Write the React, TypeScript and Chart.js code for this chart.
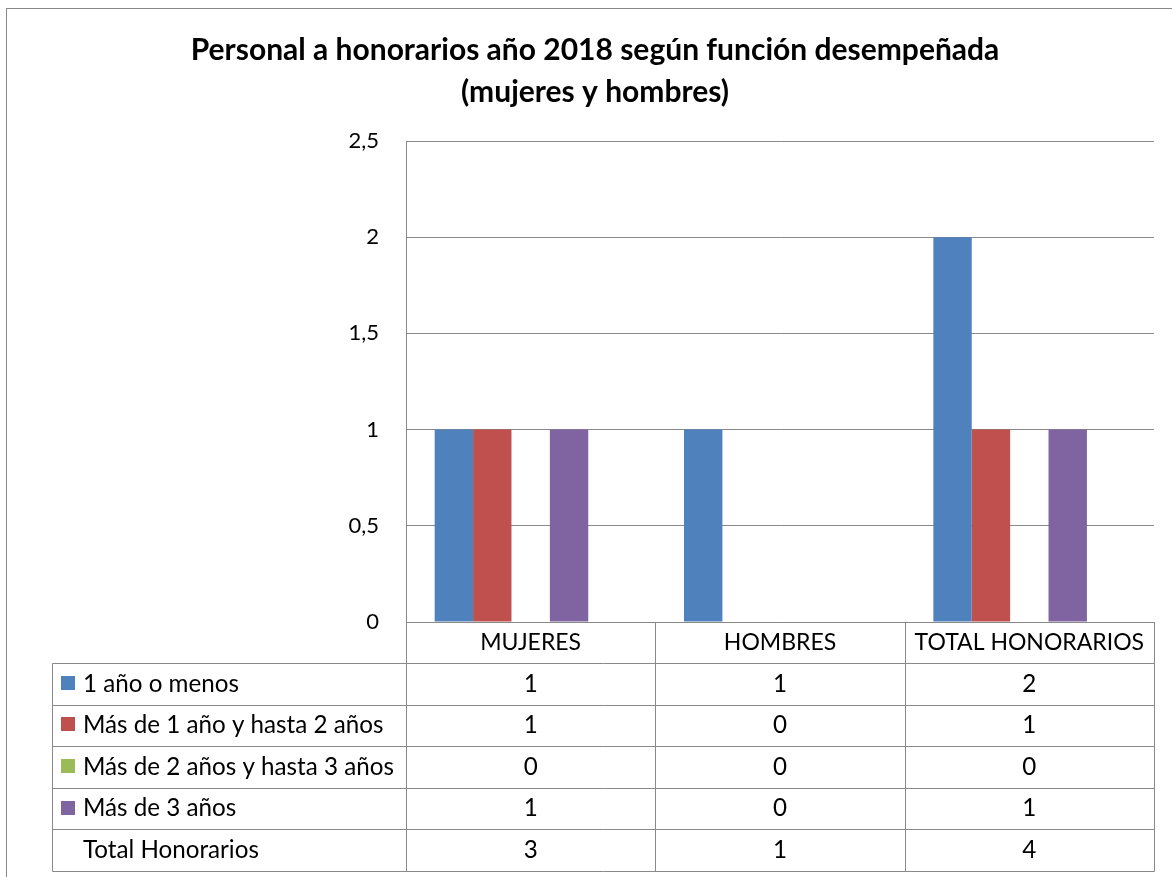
import React, { useEffect, useRef } from "react";
import { Chart, registerables } from "chart.js";

Chart.register(...registerables);

const titleLines = ["Personal a honorarios año 2018 según función desempeñada", "(mujeres y hombres)"];
const categories = ["MUJERES", "HOMBRES", "TOTAL HONORARIOS"];
const seriesNames = [
  "1 año o menos",
  "Más de 1 año y hasta 2 años",
  "Más de 2 años y hasta 3 años",
  "Más de 3 años",
  "Total Honorarios",
];
const unAnoOMenos = [1, 1, 2];
const masDe1HastaDos = [1, 0, 1];
const masDe2HastaTres = [0, 0, 0];
const masDe3 = [1, 0, 1];
const totalHonorarios = [3, 1, 4];
const seriesValues = [unAnoOMenos, masDe1HastaDos, masDe2HastaTres, masDe3, totalHonorarios];
const seriesColors = ["#4F81BD", "#C0504D", "#9BBB59", "#8064A2", "rgba(0,0,0,0)"];
const showMarker = [true, true, true, true, false];
const yMin = 0;
const yMax = 2.5;
const yStep = 0.5;

const FONT = "Lato, 'Open Sans', sans-serif";
const LINE = "#898989";
const HEADER_H = 41;
const ROW_H = 41.6;
const LABEL_LEFT = 52;

const framePlugin = {
  id: "frame",
  beforeDraw(chart: any) {
    const { ctx } = chart;
    ctx.save();
    ctx.fillStyle = "#ffffff";
    ctx.fillRect(0, 0, chart.width, chart.height);
    ctx.strokeStyle = LINE;
    ctx.lineWidth = 1;
    ctx.strokeRect(6.5, 8.5, chart.width + 20, chart.height + 20);
    ctx.restore();
  },
};

const tablePlugin = {
  id: "dataTable",
  afterDraw(chart: any) {
    const { ctx, chartArea, scales } = chart;
    const xs = scales.x;
    const n = categories.length;
    const catW = (chartArea.right - chartArea.left) / n;
    const top = chartArea.bottom;
    const tableTop = top + HEADER_H;
    const rows = seriesNames.length;
    const bottom = tableTop + rows * ROW_H;
    ctx.save();
    ctx.strokeStyle = LINE;
    ctx.lineWidth = 1;
    ctx.beginPath();
    for (let r = 0; r <= rows; r++) {
      const y = Math.round(tableTop + r * ROW_H) + 0.5;
      ctx.moveTo(LABEL_LEFT + 0.5, y);
      ctx.lineTo(chartArea.right + 0.5, y);
    }
    for (let c = 0; c <= n; c++) {
      const x = Math.round(chartArea.left + c * catW) + 0.5;
      ctx.moveTo(x, top);
      ctx.lineTo(x, Math.round(bottom) + 0.5);
    }
    ctx.moveTo(LABEL_LEFT + 0.5, Math.round(tableTop) + 0.5);
    ctx.lineTo(LABEL_LEFT + 0.5, Math.round(bottom) + 0.5);
    ctx.stroke();

    ctx.font = `24.2px ${FONT}`;
    ctx.fillStyle = "#000000";
    ctx.textBaseline = "middle";
    for (let r = 0; r < rows; r++) {
      const cy = tableTop + r * ROW_H + ROW_H / 2;
      if (showMarker[r]) {
        ctx.fillStyle = seriesColors[r];
        ctx.fillRect(61, Math.round(cy - 8), 14, 14);
      }
      ctx.fillStyle = "#000000";
      ctx.textAlign = "left";
      ctx.fillText(seriesNames[r], 83, cy);
      ctx.textAlign = "center";
      seriesValues[r].forEach((v, c) => {
        ctx.fillText(String(v), xs.getPixelForValue(c), cy);
      });
    }
    ctx.restore();
  },
};

export default function App() {
  const ref = useRef<HTMLCanvasElement | null>(null);
  useEffect(() => {
    if (!ref.current) return;
    const chart = new Chart(ref.current, {
      type: "bar",
      data: {
        labels: categories,
        datasets: seriesNames.map((name, i) => ({
          label: name,
          data: seriesValues[i],
          backgroundColor: seriesColors[i],
          borderWidth: 0,
        })),
      },
      options: {
        responsive: false,
        animation: false,
        devicePixelRatio: 1,
        layout: { padding: { left: 36, right: 18, top: 0, bottom: 6 } },
        datasets: { bar: { categoryPercentage: 0.77, barPercentage: 1 } },
        plugins: {
          legend: { display: false },
          tooltip: { enabled: false },
          title: {
            display: true,
            text: titleLines,
            color: "#000000",
            font: { family: FONT, size: 30, weight: "bold", lineHeight: 42 / 30 },
            padding: { top: 29, bottom: 28 },
          },
        },
        scales: {
          x: {
            grid: { display: false, drawTicks: false },
            border: { display: true, color: LINE },
            ticks: { color: "#000000", font: { family: FONT, size: 23, lineHeight: 24 / 23 }, padding: 9, maxRotation: 0 },
            afterFit(scale: any) {
              scale.height = HEADER_H + seriesNames.length * ROW_H;
            },
          },
          y: {
            min: yMin,
            max: yMax,
            grid: { color: LINE, drawTicks: false },
            border: { display: true, color: LINE },
            ticks: {
              stepSize: yStep,
              padding: 27,
              color: "#000000",
              font: { family: FONT, size: 22 },
              callback: (v: any) => String(v).replace(".", ","),
            },
            afterFit(scale: any) {
              scale.width = 370;
            },
          },
        },
      },
      plugins: [framePlugin, tablePlugin],
    });
    return () => chart.destroy();
  }, []);
  return (
    <div style={{ position: "absolute", left: 0, top: 0, width: 1172, height: 877 }}>
      <canvas ref={ref} width={1172} height={877} />
    </div>
  );
}
